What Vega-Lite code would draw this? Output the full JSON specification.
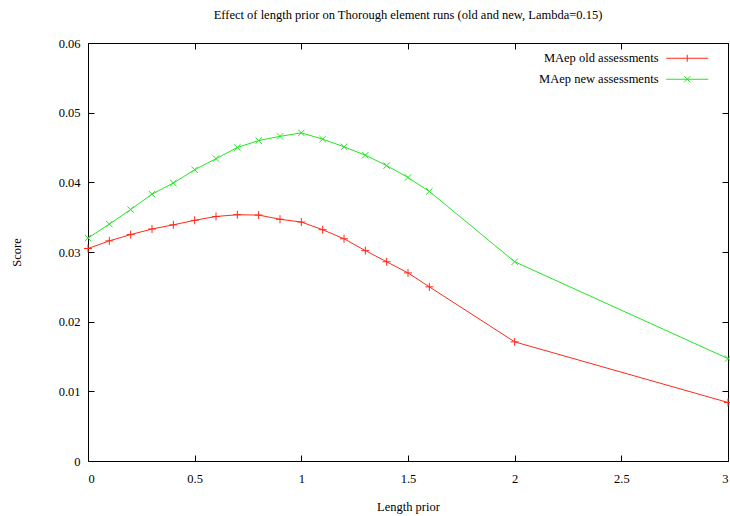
{
  "$schema": "https://vega.github.io/schema/vega-lite/v6.json",
  "width": 640,
  "height": 418,
  "autosize": {"type": "none"},
  "padding": {"left": 88, "top": 43, "right": 2, "bottom": 55},
  "background": "white",
  "title": {
    "text": "Effect of length prior on Thorough element runs (old and new, Lambda=0.15)",
    "font": "Liberation Serif",
    "fontSize": 12.5,
    "fontWeight": "normal",
    "color": "black",
    "anchor": "middle",
    "offset": 16
  },
  "config": {
    "view": {"stroke": "black", "strokeWidth": 1},
    "axis": {
      "labelFont": "Liberation Serif",
      "labelFontSize": 12.5,
      "labelColor": "black",
      "titleFont": "Liberation Serif",
      "titleFontSize": 12.5,
      "titleFontWeight": "normal",
      "titleColor": "black",
      "tickColor": "black",
      "tickSize": -6,
      "tickWidth": 1,
      "grid": false,
      "domain": false
    },
    "legend": {
      "labelFont": "Liberation Serif",
      "labelFontSize": 12.5,
      "labelColor": "black"
    }
  },
  "data": {
    "values": [
      {"x": 0, "y": 0.0305, "series": "MAep old assessments"},
      {"x": 0.1, "y": 0.0316, "series": "MAep old assessments"},
      {"x": 0.2, "y": 0.0325, "series": "MAep old assessments"},
      {"x": 0.3, "y": 0.0333, "series": "MAep old assessments"},
      {"x": 0.4, "y": 0.0339, "series": "MAep old assessments"},
      {"x": 0.5, "y": 0.03455, "series": "MAep old assessments"},
      {"x": 0.6, "y": 0.0351, "series": "MAep old assessments"},
      {"x": 0.7, "y": 0.03535, "series": "MAep old assessments"},
      {"x": 0.8, "y": 0.0353, "series": "MAep old assessments"},
      {"x": 0.9, "y": 0.0347, "series": "MAep old assessments"},
      {"x": 1.0, "y": 0.0343, "series": "MAep old assessments"},
      {"x": 1.1, "y": 0.0332, "series": "MAep old assessments"},
      {"x": 1.2, "y": 0.0319, "series": "MAep old assessments"},
      {"x": 1.3, "y": 0.0302, "series": "MAep old assessments"},
      {"x": 1.4, "y": 0.0286, "series": "MAep old assessments"},
      {"x": 1.5, "y": 0.0270, "series": "MAep old assessments"},
      {"x": 1.6, "y": 0.0250, "series": "MAep old assessments"},
      {"x": 2.0, "y": 0.0171, "series": "MAep old assessments"},
      {"x": 3.0, "y": 0.0084, "series": "MAep old assessments"},
      {"x": 0, "y": 0.0320, "series": "MAep new assessments"},
      {"x": 0.1, "y": 0.0340, "series": "MAep new assessments"},
      {"x": 0.2, "y": 0.0361, "series": "MAep new assessments"},
      {"x": 0.3, "y": 0.0383, "series": "MAep new assessments"},
      {"x": 0.4, "y": 0.0399, "series": "MAep new assessments"},
      {"x": 0.5, "y": 0.0418, "series": "MAep new assessments"},
      {"x": 0.6, "y": 0.0434, "series": "MAep new assessments"},
      {"x": 0.7, "y": 0.0450, "series": "MAep new assessments"},
      {"x": 0.8, "y": 0.0460, "series": "MAep new assessments"},
      {"x": 0.9, "y": 0.0466, "series": "MAep new assessments"},
      {"x": 1.0, "y": 0.0471, "series": "MAep new assessments"},
      {"x": 1.1, "y": 0.0462, "series": "MAep new assessments"},
      {"x": 1.2, "y": 0.0451, "series": "MAep new assessments"},
      {"x": 1.3, "y": 0.0439, "series": "MAep new assessments"},
      {"x": 1.4, "y": 0.0424, "series": "MAep new assessments"},
      {"x": 1.5, "y": 0.0407, "series": "MAep new assessments"},
      {"x": 1.6, "y": 0.0387, "series": "MAep new assessments"},
      {"x": 2.0, "y": 0.0286, "series": "MAep new assessments"},
      {"x": 3.0, "y": 0.0147, "series": "MAep new assessments"}
    ]
  },
  "layer": [
    {
      "mark": {"type": "line", "strokeWidth": 1},
      "encoding": {
        "x": {
          "field": "x", "type": "quantitative",
          "scale": {"domain": [0, 3], "nice": false, "zero": false},
          "axis": {"orient": "bottom", "values": [0, 0.5, 1, 1.5, 2, 2.5, 3], "format": "~g", "title": "Length prior", "labelPadding": 17, "titlePadding": 16}
        },
        "y": {
          "field": "y", "type": "quantitative",
          "scale": {"domain": [0, 0.06], "nice": false},
          "axis": {"orient": "left", "values": [0, 0.01, 0.02, 0.03, 0.04, 0.05, 0.06], "format": "~g", "title": "Score", "labelPadding": 14, "titlePadding": 35}
        },
        "color": {
          "field": "series", "type": "nominal",
          "scale": {"domain": ["MAep old assessments", "MAep new assessments"], "range": ["#ff2a1a", "#22e622"]},
          "legend": {
            "title": null,
            "orient": "top-right",
            "offset": 9,
            "labelAlign": "right",
            "labelOffset": -35,
            "symbolOffset": 34,
            "symbolSize": 100,
            "symbolStrokeWidth": 1,
            "rowPadding": 8,
            "encode": {
              "symbols": {
                "update": {
                  "shape": {"signal": "datum.value === 'MAep old assessments' ? 'M-4.2,0H4.2M0,-0.7V0.7M5.8,0H5.8' : 'M-4.2,0H4.2M-0.6,-0.6L0.6,0.6M-0.6,0.6L0.6,-0.6M5.8,0H5.8'"},
                  "fill": {"value": "transparent"}
                }
              }
            }
          }
        }
      }
    },
    {
      "transform": [{"filter": "datum.series === 'MAep old assessments'"}],
      "mark": {"type": "point", "filled": false, "strokeWidth": 1, "size": 64, "opacity": 1, "shape": "M-1,0H1M0,-1V1"},
      "encoding": {
        "x": {
          "field": "x", "type": "quantitative",
          "axis": {"orient": "top", "values": [0, 0.5, 1, 1.5, 2, 2.5, 3], "labels": false, "title": null}
        },
        "y": {
          "field": "y", "type": "quantitative",
          "axis": {"orient": "right", "values": [0, 0.01, 0.02, 0.03, 0.04, 0.05, 0.06], "labels": false, "title": null}
        },
        "color": {"field": "series", "type": "nominal", "legend": null}
      }
    },
    {
      "transform": [{"filter": "datum.series === 'MAep new assessments'"}],
      "mark": {"type": "point", "filled": false, "strokeWidth": 1, "size": 64, "opacity": 1, "shape": "M-0.8,-0.8L0.8,0.8M-0.8,0.8L0.8,-0.8"},
      "encoding": {
        "x": {"field": "x", "type": "quantitative", "axis": null},
        "y": {"field": "y", "type": "quantitative", "axis": null},
        "color": {"field": "series", "type": "nominal", "legend": null}
      }
    }
  ],
  "resolve": {"axis": {"x": "independent", "y": "independent"}}
}
